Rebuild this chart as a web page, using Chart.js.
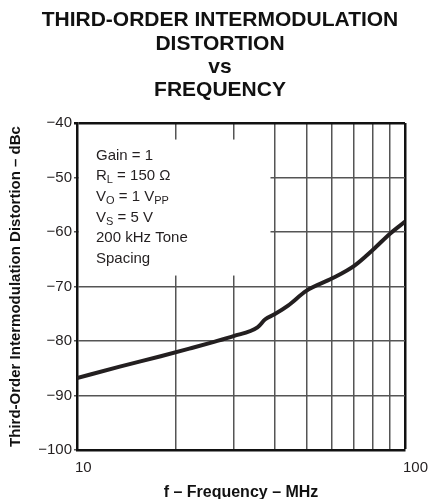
<!DOCTYPE html>
<html>
<head>
<meta charset="utf-8">
<script src="https://cdn.jsdelivr.net/npm/chart.js@4.4.0/dist/chart.umd.min.js"></script>
<style>
  html, body { margin: 0; padding: 0; background: #fff; }
  #wrap { width: 428px; height: 499px; }
</style>
</head>
<body>
<div id="wrap"><canvas id="imdChart" width="428" height="499"></canvas></div>
<script>
'use strict';

// IMD3 vs frequency, gain = 1
const freqMHz = [10, 13.5, 18, 22, 26, 30, 35.5, 37.5, 40, 44, 50, 60, 70, 80, 90, 100];
const imdDbc = [-86.8, -84.7, -82.8, -81.4, -80.2, -79.1, -77.5, -76.0, -75.1, -73.5, -70.8, -68.5, -66.2, -63.2, -60.3, -58.1];

const yTicks = [-100, -90, -80, -70, -60, -50, -40];
const xGridMHz = [10, 20, 30, 40, 50, 60, 70, 80, 90, 100];
const xTickLabels = [10, 100];

const titleLines = ['THIRD-ORDER INTERMODULATION', 'DISTORTION', 'vs', 'FREQUENCY'];

// test conditions, [text, subscript?]
const conditions = [
  [['Gain = 1']],
  [['R'], ['L', true], [' = 150 \u03A9']],
  [['V'], ['O', true], [' = 1 V'], ['PP', true]],
  [['V'], ['S', true], [' = 5 V']],
  [['200 kHz Tone']],
  [['Spacing']]
];

const FONT = '"Liberation Sans", Arial, Helvetica, sans-serif';
const INK = '#231f20';
const GRID = '#555';

Chart.defaults.font.family = FONT;
Chart.defaults.color = INK;

// white panel with the conditions text, painted over the grid
const conditionBox = {
  id: 'conditionBox',
  beforeDatasetsDraw(chart) {
    const { ctx, chartArea: a } = chart;
    ctx.save();
    ctx.fillStyle = '#fff';
    ctx.fillRect(a.left + 2, a.top + 16.5, 191.5, 136);
    ctx.fillStyle = INK;
    ctx.textBaseline = 'alphabetic';
    let y = a.top + 36.5;
    conditions.forEach(line => {
      let x = a.left + 19;
      line.forEach(([txt, sub]) => {
        ctx.font = (sub ? '11px ' : '15px ') + FONT;
        ctx.fillText(txt, x, sub ? y + 3 : y);
        x += ctx.measureText(txt).width;
      });
      y += 20.7;
    });
    ctx.restore();
  }
};

const ctx = document.getElementById('imdChart').getContext('2d');
const imdChart = new Chart(ctx, {
  type: 'line',
  data: {
    datasets: [{
      data: freqMHz.map((f, i) => ({ x: f, y: imdDbc[i] })),
      borderColor: INK,
      borderWidth: 4,
      pointRadius: 0,
      fill: false,
      cubicInterpolationMode: 'monotone'
    }]
  },
  options: {
    responsive: false,
    animation: false,
    devicePixelRatio: 1,
    layout: { padding: { left: 12, right: 0, top: 0, bottom: 0 } },
    plugins: {
      legend: { display: false },
      tooltip: { enabled: false },
      title: {
        display: true,
        text: titleLines,
        color: '#111',
        font: { size: 21, weight: 'bold', lineHeight: 1.11 },
        padding: { top: 9, bottom: 20.8 }
      }
    },
    scales: {
      x: {
        type: 'logarithmic',
        position: 'bottom',
        min: 10,
        max: 100,
        afterBuildTicks: s => { s.ticks = xGridMHz.map(v => ({ value: v })); },
        afterFit: s => { s.height = 49; s.paddingRight = 23; },
        ticks: {
          autoSkip: false,
          maxRotation: 0,
          align: 'start',
          labelOffset: -2,
          padding: 9,
          font: { size: 15 },
          color: INK,
          callback: v => xTickLabels.includes(Math.round(v)) ? String(Math.round(v)) : ''
        },
        grid: {
          drawTicks: false,
          color: c => (c.tick && c.tick.value === 100) ? '#111' : GRID,
          lineWidth: c => (c.tick && c.tick.value === 100) ? 2.5 : 1.5
        },
        border: { color: '#111', width: 2.5 },
        title: {
          display: true,
          text: 'f \u2013 Frequency \u2013 MHz',
          color: '#111',
          font: { size: 16, weight: 'bold', lineHeight: 1 },
          padding: { top: 0, bottom: -2 }
        }
      },
      y: {
        type: 'linear',
        min: -100,
        max: -40,
        afterBuildTicks: s => { s.ticks = yTicks.map(v => ({ value: v })); },
        afterFit: s => { s.width = 65; },
        ticks: {
          padding: 2,
          font: { size: 15 },
          color: INK,
          callback: v => '\u2212' + Math.abs(v)
        },
        grid: {
          tickLength: 3,
          color: c => (c.tick && c.tick.value === -40) ? '#111' : GRID,
          lineWidth: c => (c.tick && c.tick.value === -40) ? 2.5 : 1.5
        },
        border: { color: '#111', width: 2.5 },
        title: {
          display: true,
          text: 'Third-Order Intermodulation Distortion \u2013 dBc',
          color: '#111',
          font: { size: 15, weight: 'bold', lineHeight: 1 },
          padding: { top: -4, bottom: 0 }
        }
      }
    }
  },
  plugins: [conditionBox]
});
</script>
</body>
</html>
